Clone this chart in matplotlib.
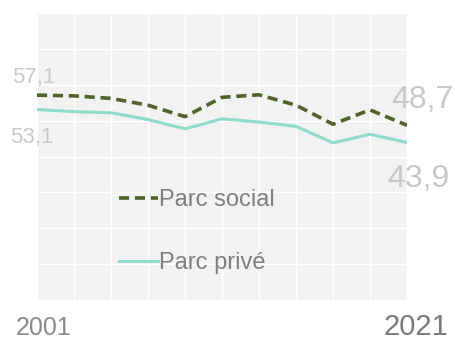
import numpy as np
import matplotlib.pyplot as plt

plt.rcParams['font.family'] = ['Liberation Sans', 'DejaVu Sans']

# data (every two years)
years = [2001, 2003, 2005, 2007, 2009, 2011, 2013, 2015, 2017, 2019, 2021]
parc_social = [57.1, 56.9, 56.2, 54.3, 51.1, 56.5, 57.2, 54.3, 49.0, 53.0, 48.7]
parc_prive = [53.1, 52.5, 52.2, 50.3, 47.7, 50.5, 49.6, 48.4, 43.8, 46.2, 43.9]

c_social = '#4f6228'
c_prive = '#8fdccb'
c_num = '#c8c8c8'
c_year = '#8a8a8a'


def fmt(v):
    return ('%.1f' % v).replace('.', ',')


fig = plt.figure(figsize=(4.56, 3.4), dpi=100)
ax = fig.add_axes([37 / 456, 1 - 300 / 340, 370 / 456, 287 / 340])
ax.set_facecolor('#f2f2f2')

ax.plot(years, parc_social, color=c_social, lw=2.6, dashes=(2.8, 1.6), label='Parc social')
ax.plot(years, parc_prive, color=c_prive, lw=2.2, label='Parc privé')

ax.set_xlim(2001, 2021)
ax.set_ylim(0, 80)
ax.set_xticks(years)
ax.set_yticks(np.arange(0, 81, 10))
ax.grid(color='white', lw=1)
ax.tick_params(length=0, labelbottom=False, labelleft=False)
for s in ax.spines.values():
    s.set_visible(False)

leg = ax.legend(loc='upper left', bbox_to_anchor=(0.195, 0.42), frameon=False,
                handlelength=1.65, handletextpad=0.08, labelspacing=1.74,
                fontsize=17, labelcolor='#7f7f7f', borderaxespad=0)

# value labels
fig.text(12 / 456, 1 - 83 / 340, fmt(parc_social[0]), color=c_num, fontsize=16, ha='left', va='baseline')
fig.text(10 / 456, 1 - 143 / 340, fmt(parc_prive[0]), color=c_num, fontsize=16, ha='left', va='baseline')
fig.text(454 / 456, 1 - 108 / 340, fmt(parc_social[-1]), color=c_num, fontsize=23, ha='right', va='baseline')
fig.text(450 / 456, 1 - 187 / 340, fmt(parc_prive[-1]), color=c_num, fontsize=23, ha='right', va='baseline')

# year labels
fig.text(16 / 456, 1 - 335 / 340, str(years[0]), color=c_year, fontsize=18, ha='left', va='baseline')
fig.text(448 / 456, 1 - 335 / 340, str(years[-1]), color='#7a7a7a', fontsize=21, ha='right', va='baseline')

fig.savefig('out.png', dpi=100)
